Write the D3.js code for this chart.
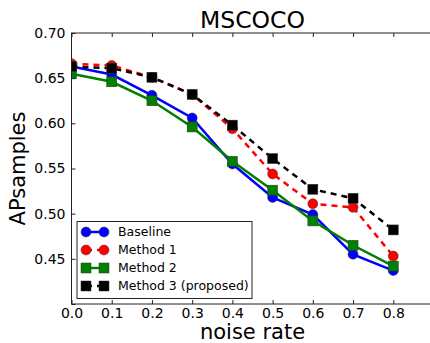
<!DOCTYPE html>
<html>
<head>
<meta charset="utf-8">
<script src="https://cdn.jsdelivr.net/npm/d3@7"></script>
<style>
  body { margin: 0; background: white; }
  text { font-family: "DejaVu Sans", sans-serif; fill: black; }
</style>
</head>
<body>
<svg id="chart"></svg>
<script>
// noise rates (x) and AP values per method
let noiseRates = [0.0, 0.1, 0.2, 0.3, 0.4, 0.5, 0.6, 0.7, 0.8];
let baseline = [0.663, 0.654, 0.631, 0.606, 0.555, 0.518, 0.499, 0.455, 0.437];
let method1  = [0.666, 0.664, 0.651, 0.632, 0.594, 0.544, 0.511, 0.507, 0.453];
let method2  = [0.655, 0.646, 0.625, 0.596, 0.558, 0.526, 0.492, 0.465, 0.442];
let method3  = [0.663, 0.661, 0.651, 0.632, 0.598, 0.561, 0.527, 0.517, 0.482];
let xTicks = [0.0, 0.1, 0.2, 0.3, 0.4, 0.5, 0.6, 0.7, 0.8, 0.9];
let yTicks = [0.40, 0.45, 0.50, 0.55, 0.60, 0.65, 0.70];
let seriesNames = ["Baseline", "Method 1", "Method 2", "Method 3 (proposed)"];

let width = 430;
let height = 343;
let plotLeft = 71.5, plotTop = 33, plotRight = 433.5, plotBottom = 304;

let series = [
    { name: seriesNames[0], values: baseline, color: "#0000ff", dash: null, marker: "circle" },
    { name: seriesNames[1], values: method1, color: "#ff0000", dash: "6,5", marker: "circle" },
    { name: seriesNames[2], values: method2, color: "#008000", dash: null, marker: "square" },
    { name: seriesNames[3], values: method3, color: "#000000", dash: "6,5", marker: "square" }
];

let svg = d3.select("#chart")
    .attr("width", width)
    .attr("height", height);

let x = d3.scaleLinear().domain([0, 0.9]).range([plotLeft, plotRight]);
let y = d3.scaleLinear().domain([0.40, 0.70]).range([plotBottom, plotTop]);

// clip so markers at the edge are cut like the original
svg.append("defs").append("clipPath").attr("id", "plotClip")
    .append("rect")
    .attr("x", plotLeft).attr("y", plotTop)
    .attr("width", plotRight - plotLeft).attr("height", plotBottom - plotTop);

let plot = svg.append("g").attr("clip-path", "url(#plotClip)");

let line = d3.line()
    .x((d, i) => x(noiseRates[i]))
    .y(d => y(d));

// draw a marker of the given type
function drawMarker(g, type, cx, cy, color) {
    if (type === "circle") {
        g.append("circle")
            .attr("cx", cx).attr("cy", cy).attr("r", 5)
            .attr("fill", color)
            .attr("stroke", "#333").attr("stroke-width", 0.5);
    } else {
        g.append("rect")
            .attr("x", cx - 5).attr("y", cy - 5)
            .attr("width", 10).attr("height", 10)
            .attr("fill", color)
            .attr("stroke", "#333").attr("stroke-width", 0.5);
    }
}

series.forEach(s => {
    let g = plot.append("g");
    g.append("path")
        .datum(s.values)
        .attr("d", line)
        .attr("fill", "none")
        .attr("stroke", s.color)
        .attr("stroke-width", 2.5)
        .attr("stroke-dasharray", s.dash);
    s.values.forEach((v, i) => drawMarker(g, s.marker, x(noiseRates[i]), y(v), s.color));
});

// axes frame
svg.append("rect")
    .attr("x", plotLeft).attr("y", plotTop)
    .attr("width", plotRight - plotLeft).attr("height", plotBottom - plotTop)
    .attr("fill", "none")
    .attr("stroke", "#222")
    .attr("stroke-width", 1);

// inward ticks (bottom and top)
let xAxisB = d3.axisBottom(x).tickValues(xTicks).tickSize(-4).tickPadding(4)
    .tickFormat(d => d < 0.85 ? d3.format(".1f")(d) : "");
let gxb = svg.append("g").attr("transform", `translate(0,${plotBottom})`).call(xAxisB);
let gxt = svg.append("g").attr("transform", `translate(0,${plotTop})`)
    .call(d3.axisTop(x).tickValues(xTicks).tickSize(-4).tickFormat(""));

let yAxisL = d3.axisLeft(y).tickValues(yTicks).tickSize(-4).tickPadding(6)
    .tickFormat(d => d > 0.42 ? d3.format(".2f")(d) : "");
let gyl = svg.append("g").attr("transform", `translate(${plotLeft},0)`).call(yAxisL);

[gxb, gxt, gyl].forEach(g => {
    g.select(".domain").remove();
    g.selectAll(".tick line").attr("stroke", "#222");
    g.selectAll("text")
        .attr("font-size", 14)
        .attr("font-family", "DejaVu Sans")
        .attr("fill", "black");
});

// title and axis labels
svg.append("text")
    .attr("x", (plotLeft + plotRight) / 2).attr("y", 28)
    .attr("text-anchor", "middle")
    .attr("font-size", 23.5)
    .text("MSCOCO");

svg.append("text")
    .attr("x", (plotLeft + plotRight) / 2).attr("y", 339)
    .attr("text-anchor", "middle")
    .attr("font-size", 21)
    .text("noise rate");

svg.append("text")
    .attr("transform", `translate(25,${(plotTop + plotBottom) / 2}) rotate(-90)`)
    .attr("text-anchor", "middle")
    .attr("font-size", 21)
    .text("APsamples");

// legend
let legend = svg.append("g");
legend.append("rect")
    .attr("x", 77).attr("y", 221.5)
    .attr("width", 175).attr("height", 77)
    .attr("fill", "white")
    .attr("stroke", "#222")
    .attr("stroke-width", 1);

series.forEach((s, i) => {
    let ly = 232 + i * 18;
    let g = legend.append("g");
    g.append("line")
        .attr("x1", 86).attr("x2", 104)
        .attr("y1", ly).attr("y2", ly)
        .attr("stroke", s.color)
        .attr("stroke-width", 2.5)
        .attr("stroke-dasharray", s.dash ? "6,5" : null);
    drawMarker(g, s.marker, 86, ly, s.color);
    drawMarker(g, s.marker, 104, ly, s.color);
    g.append("text")
        .attr("x", 118).attr("y", ly)
        .attr("dy", "0.35em")
        .attr("font-size", 12.5)
        .text(s.name);
});
</script>
</body>
</html>
